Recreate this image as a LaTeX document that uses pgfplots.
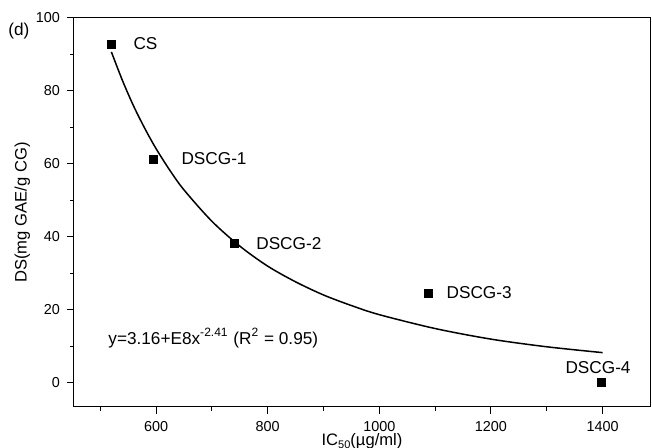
\documentclass[border=0pt]{standalone}
\usepackage{fontspec}
\setmainfont{Liberation Sans}
\usepackage{pgfplots}
\pgfplotsset{compat=1.18}
\usetikzlibrary{calc}
\begin{document}
\begin{tikzpicture}
\begin{axis}[
  name=ax,
  width=288pt, height=194.5pt, scale only axis,
  xmin=453, xmax=1485, ymin=-6.6, ymax=100,
  axis line style={line width=0.5pt},
  xtick={600,800,1000,1200,1400},
  minor xtick={500,700,900,1100,1300},
  ytick={0,20,40,60,80,100},
  minor ytick={10,30,50,70,90},
  tick align=outside,
  xtick pos=bottom, ytick pos=left,
  major tick length=3.5pt, minor tick length=2pt,
  tick style={line width=0.5pt, black},
  /pgf/number format/assume math mode=true,
  /pgf/number format/1000 sep={},
  ticklabel style={font=\fontsize{7.2}{8}\selectfont},
  xlabel={IC\raisebox{-0.35ex}{\fontsize{5.5}{6}\selectfont 50}(\textmu g/ml)},
  ylabel={DS(mg GAE/g CG)},
  label style={font=\fontsize{8.3}{9.5}\selectfont},
  xlabel style={yshift=3.5pt, inner sep=1pt},
  ylabel style={yshift=-4pt},
  clip=false,
]
\addplot[black, line width=0.75pt, smooth] coordinates {
 (520,90.7) (540,82.8) (560,75.8) (580,69.7) (600,64.2) (625,58.2) (650,52.9)
 (700,44.3) (750,37.5) (800,32.0) (850,27.7) (900,24.1) (950,21.2) (1000,18.7)
 (1100,14.9) (1200,12.0) (1300,9.9) (1400,8.3)
};
\addplot[only marks, mark=square*, mark size=2pt, black] coordinates {
 (520,92.8) (595,61.3) (741,38.2) (1088,24.6) (1398,0.1)
};
\begin{scope}[every node/.style={font=\fontsize{8.6}{10}\selectfont, anchor=west, inner sep=0pt}]
\node at (axis cs:559,92.9) {CS};
\node at (axis cs:645,61.5) {DSCG-1};
\node at (axis cs:779,38.3) {DSCG-2};
\node at (axis cs:1120,24.7) {DSCG-3};
\node at (axis cs:1333,4.1) {DSCG-4};
\node at (axis cs:514,12.3) {y=3.16+E8x\textsuperscript{-2.41} (R\textsuperscript{2} = 0.95)};
\end{scope}
\end{axis}
\node[font=\fontsize{8.6}{10}\selectfont, anchor=west, inner sep=0pt] at ($(ax.north west)+(-33pt,-6.5pt)$) {(d)};
\pgfresetboundingbox
\path[use as bounding box] ($(ax.south west)+(-37pt,-20.5pt)$) rectangle ($(ax.north east)+(1pt,9pt)$);
\end{tikzpicture}
\end{document}
